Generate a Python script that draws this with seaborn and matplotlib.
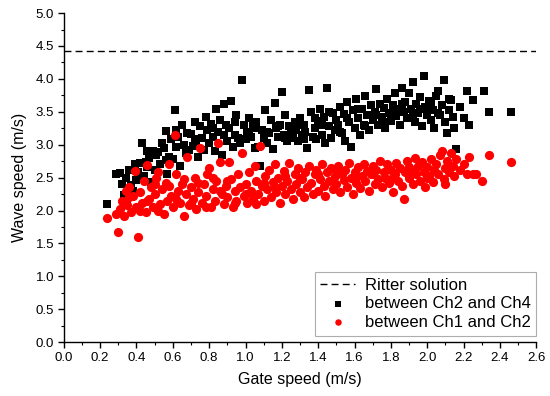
import matplotlib
matplotlib.use("Agg")
import matplotlib.pyplot as plt
import seaborn as sns
import pandas as pd
from matplotlib.ticker import MultipleLocator

# Ritter solution (wave speed, m/s)
ritter_speed = 4.43

# between Ch2 and Ch4 (black squares)
ch24_x = [0.24, 0.29, 0.31, 0.32, 0.33, 0.34, 0.35, 0.36, 0.37, 0.38, 0.39,
          0.40, 0.41, 0.42, 0.43, 0.44, 0.45, 0.46, 0.47, 0.48, 0.49,
          0.50, 0.51, 0.52, 0.53, 0.54, 0.55, 0.56, 0.57, 0.58, 0.59,
          0.60, 0.61, 0.62, 0.63, 0.64, 0.65, 0.66, 0.67, 0.68, 0.69,
          0.70, 0.71, 0.72, 0.73, 0.74, 0.75, 0.76, 0.77, 0.78, 0.79,
          0.80, 0.81, 0.82, 0.83, 0.84, 0.85, 0.86, 0.87, 0.88, 0.89,
          0.90, 0.91, 0.92, 0.93, 0.94, 0.95, 0.96, 0.97, 0.98, 0.99,
          1.00, 1.01, 1.02, 1.03, 1.04, 1.05, 1.06, 1.07, 1.08, 1.09,
          1.10, 1.11, 1.12, 1.13, 1.14, 1.15, 1.16, 1.17, 1.18, 1.19,
          1.20, 1.21, 1.22, 1.23, 1.24, 1.25, 1.26, 1.27, 1.28, 1.29,
          1.30, 1.31, 1.32, 1.33, 1.34, 1.35, 1.36, 1.37, 1.38, 1.39,
          1.40, 1.41, 1.42, 1.43, 1.44, 1.45, 1.46, 1.47, 1.48, 1.49,
          1.50, 1.51, 1.52, 1.53, 1.54, 1.55, 1.56, 1.57, 1.58, 1.59,
          1.60, 1.61, 1.62, 1.63, 1.64, 1.65, 1.66, 1.67, 1.68, 1.69,
          1.70, 1.71, 1.72, 1.73, 1.74, 1.75, 1.76, 1.77, 1.78, 1.79,
          1.80, 1.81, 1.82, 1.83, 1.84, 1.85, 1.86, 1.87, 1.88, 1.89,
          1.90, 1.91, 1.92, 1.93, 1.94, 1.95, 1.96, 1.97, 1.98, 1.99,
          2.00, 2.01, 2.02, 2.03, 2.04, 2.05, 2.06, 2.07, 2.08, 2.09,
          2.10, 2.11, 2.12, 2.13, 2.14, 2.15, 2.16, 2.18, 2.20, 2.22,
          2.23, 2.25, 2.31, 2.34, 2.46,
          1.02, 1.05, 1.12, 1.18, 1.22, 1.28, 1.32, 1.38, 1.42, 1.46,
          1.52, 1.56, 1.62, 1.66, 1.72, 1.76, 1.82, 1.86, 1.92, 1.96,
          2.02, 2.06, 2.12, 0.72, 0.82, 0.88, 0.94, 0.56, 0.46, 0.62]
ch24_y = [2.10, 2.55, 2.57, 2.40, 2.23, 2.50, 2.18, 2.62, 2.39, 2.30, 2.70,
          2.46, 2.58, 2.72, 3.03, 2.52, 2.74, 2.66, 2.80, 2.44, 2.90,
          2.62, 2.84, 2.89, 2.70, 3.02, 2.95, 3.21, 2.56, 2.82, 3.08,
          2.78, 3.53, 2.96, 3.12, 2.68, 3.30, 3.00, 2.88, 3.18, 2.92,
          3.17, 2.98, 3.35, 3.05, 2.82, 3.28, 3.10, 2.92, 3.42, 3.22,
          3.02, 3.32, 3.12, 2.90, 3.54, 3.20, 3.38, 2.84, 3.62, 3.30,
          3.06, 3.25, 3.66, 2.96, 3.15, 3.45, 3.10, 3.02, 3.98, 3.30,
          3.08, 3.20, 3.40, 3.12, 3.28, 2.95, 3.35, 2.97, 2.67, 3.22,
          3.10, 3.53, 3.02, 3.18, 3.38, 2.94, 3.64, 3.25, 3.12, 3.30,
          3.80, 3.15, 3.45, 3.06, 3.28, 3.18, 3.10, 3.35, 3.22, 3.05,
          3.40, 3.14, 3.30, 3.20, 2.95, 3.83, 3.50, 3.12, 3.25, 3.08,
          3.36, 3.55, 3.15, 3.42, 3.02, 3.86, 3.28, 3.10, 3.48, 3.22,
          3.38, 3.30, 3.58, 3.18, 3.46, 3.05, 3.65, 3.35, 2.97, 3.52,
          3.25, 3.70, 3.40, 3.15, 3.55, 3.30, 3.74, 3.45, 3.22, 3.60,
          3.38, 3.50, 3.84, 3.30, 3.62, 3.42, 3.56, 3.25, 3.70, 3.48,
          3.36, 3.60, 3.78, 3.44, 3.55, 3.30, 3.86, 3.50, 3.65, 3.40,
          3.78, 3.55, 3.96, 3.35, 3.62, 3.48, 3.72, 3.28, 4.04, 3.58,
          3.45, 3.66, 3.38, 3.52, 3.25, 3.74, 3.81, 3.45, 3.60, 3.99,
          3.35, 3.18, 3.52, 3.68, 3.42, 3.25, 2.93, 3.58, 3.40, 3.82,
          3.30, 3.68, 3.82, 3.50, 3.50,
          3.15, 3.25, 3.20, 3.28, 3.10, 3.32, 3.08, 3.40, 3.30, 3.50,
          3.20, 3.40, 3.55, 3.28, 3.45, 3.35, 3.52, 3.62, 3.45, 3.55,
          3.62, 3.48, 3.70, 3.08, 3.25, 3.15, 3.35, 2.76, 2.90, 3.22]

# between Ch1 and Ch2 (red circles)
ch12_x = [0.24, 0.29, 0.30, 0.31, 0.32, 0.33, 0.34, 0.35, 0.36, 0.37, 0.38, 0.39,
          0.40, 0.41, 0.42, 0.43, 0.44, 0.45, 0.46, 0.47, 0.48, 0.49,
          0.50, 0.51, 0.52, 0.53, 0.54, 0.55, 0.56, 0.57, 0.58, 0.59,
          0.60, 0.61, 0.62, 0.63, 0.64, 0.65, 0.66, 0.67, 0.68, 0.69,
          0.70, 0.71, 0.72, 0.73, 0.74, 0.75, 0.76, 0.77, 0.78, 0.79,
          0.80, 0.81, 0.82, 0.83, 0.84, 0.85, 0.86, 0.87, 0.88, 0.89,
          0.90, 0.91, 0.92, 0.93, 0.94, 0.95, 0.96, 0.97, 0.98, 0.99,
          1.00, 1.01, 1.02, 1.03, 1.04, 1.05, 1.06, 1.07, 1.08, 1.09,
          1.10, 1.11, 1.12, 1.13, 1.14, 1.15, 1.16, 1.17, 1.18, 1.19,
          1.20, 1.21, 1.22, 1.23, 1.24, 1.25, 1.26, 1.27, 1.28, 1.29,
          1.30, 1.31, 1.32, 1.33, 1.34, 1.35, 1.36, 1.37, 1.38, 1.39,
          1.40, 1.41, 1.42, 1.43, 1.44, 1.45, 1.46, 1.47, 1.48, 1.49,
          1.50, 1.51, 1.52, 1.53, 1.54, 1.55, 1.56, 1.57, 1.58, 1.59,
          1.60, 1.61, 1.62, 1.63, 1.64, 1.65, 1.66, 1.67, 1.68, 1.69,
          1.70, 1.71, 1.72, 1.73, 1.74, 1.75, 1.76, 1.77, 1.78, 1.79,
          1.80, 1.81, 1.82, 1.83, 1.84, 1.85, 1.86, 1.87, 1.88, 1.89,
          1.90, 1.91, 1.92, 1.93, 1.94, 1.95, 1.96, 1.97, 1.98, 1.99,
          2.00, 2.01, 2.02, 2.03, 2.04, 2.05, 2.06, 2.07, 2.08, 2.09,
          2.10, 2.11, 2.12, 2.13, 2.14, 2.15, 2.16, 2.18, 2.20, 2.22,
          2.23, 2.25, 2.27, 2.30, 2.34, 2.46,
          0.36, 0.42, 0.46, 0.50, 0.52, 0.58, 0.62, 0.66, 0.70, 0.74,
          0.78, 0.82, 0.86, 0.90, 0.94, 1.00, 1.06, 1.10, 1.16, 1.22,
          1.30, 1.40, 1.50, 1.60, 1.70, 1.80, 1.90, 2.00, 2.10]
ch12_y = [1.88, 1.95, 1.68, 2.02, 2.15, 1.92, 2.30, 2.08, 2.36, 1.98, 2.22, 2.60,
          2.05, 1.59, 2.28, 2.12, 2.45, 1.98, 2.69, 2.18, 2.35, 2.05,
          2.25, 2.50, 2.59, 2.10, 2.32, 1.95, 2.42, 2.15, 2.70, 2.22,
          2.05, 3.14, 2.56, 2.30, 2.12, 2.40, 1.92, 2.25, 2.82, 2.08,
          2.35, 2.18, 2.50, 2.02, 2.28, 2.95, 2.12, 2.40, 2.22, 2.55,
          2.64, 2.05, 2.32, 2.15, 2.45, 3.02, 2.74, 2.25, 2.10, 2.38,
          2.20, 2.74, 2.48, 2.05, 2.30, 2.15, 2.55, 2.35, 2.87, 2.22,
          2.40, 2.12, 2.58, 2.30, 2.18, 2.67, 2.45, 2.25, 2.98, 2.38,
          2.15, 2.52, 2.32, 2.62, 2.20, 2.44, 2.70, 2.28, 2.50, 2.12,
          2.38, 2.60, 2.25, 2.45, 2.72, 2.32, 2.18, 2.55, 2.40, 2.65,
          2.28, 2.48, 2.20, 2.58, 2.35, 2.68, 2.42, 2.25, 2.55, 2.62,
          2.30, 2.48, 2.70, 2.38, 2.22, 2.58, 2.45, 2.65, 2.32, 2.52,
          2.40, 2.68, 2.28, 2.55, 2.46, 2.62, 2.35, 2.72, 2.50, 2.25,
          2.58, 2.42, 2.66, 2.34, 2.52, 2.70, 2.45, 2.60, 2.30, 2.55,
          2.68, 2.40, 2.62, 2.48, 2.75, 2.35, 2.58, 2.50, 2.70, 2.42,
          2.62, 2.28, 2.55, 2.72, 2.45, 2.65, 2.38, 2.17, 2.58, 2.75,
          2.50, 2.62, 2.40, 2.80, 2.55, 2.68, 2.45, 2.74, 2.58, 2.35,
          2.66, 2.52, 2.78, 2.44, 2.62, 2.70, 2.55, 2.85, 2.91, 2.48,
          2.65, 2.75, 2.58, 2.88, 2.68, 2.52, 2.78, 2.62, 2.70, 2.55,
          2.82, 2.55, 2.55, 2.45, 2.84, 2.73,
          2.20, 2.00, 2.15, 2.40, 2.00, 2.38, 2.18, 2.48, 2.12, 2.42,
          2.05, 2.50, 2.30, 2.45, 2.12, 2.25, 2.10, 2.42, 2.35, 2.52,
          2.50, 2.55, 2.62, 2.48, 2.55, 2.48, 2.66, 2.50, 2.40]

plt.rcParams["font.family"] = ["Liberation Sans", "DejaVu Sans"]
fig = plt.figure(figsize=(5.5, 3.96), dpi=100)
ax = fig.add_axes([0.116, 0.136, 0.859, 0.831])

ax.axhline(ritter_speed, color="black", lw=1.0, ls=(0, (5, 3)), label="Ritter solution")

df24 = pd.DataFrame({"x": ch24_x, "y": ch24_y})
df12 = pd.DataFrame({"x": ch12_x, "y": ch12_y})
sns.scatterplot(data=df24, x="x", y="y", ax=ax, marker="s", s=32, color="black",
                linewidth=0, label="between Ch2 and Ch4")
sns.scatterplot(data=df12, x="x", y="y", ax=ax, marker="o", s=44, color="#ff0000",
                linewidth=0, label="between Ch1 and Ch2")

ax.set_xlim(0, 2.6)
ax.set_ylim(0, 5.0)
ax.xaxis.set_major_locator(MultipleLocator(0.2))
ax.xaxis.set_minor_locator(MultipleLocator(0.1))
ax.yaxis.set_major_locator(MultipleLocator(0.5))
ax.yaxis.set_minor_locator(MultipleLocator(0.25))
ax.set_xticklabels([f"{v:.1f}" for v in ax.get_xticks()])
ax.set_yticklabels([f"{v:.1f}" for v in ax.get_yticks()])
ax.tick_params(which="major", direction="out", length=4, width=1, labelsize=9.5,
               colors="black", pad=3)
ax.tick_params(which="minor", direction="out", length=2, width=0.8)
for side in ["top", "right"]:
    ax.spines[side].set_visible(False)
for side in ["left", "bottom"]:
    ax.spines[side].set_linewidth(1.0)
    ax.spines[side].set_color("black")

ax.set_xlabel("Gate speed (m/s)", fontsize=11.5, labelpad=6)
ax.set_ylabel("Wave speed (m/s)", fontsize=11.5, labelpad=6)

leg = ax.legend(loc="lower right", bbox_to_anchor=(1.0, 0.02), borderaxespad=0,
                fontsize=12, frameon=True, fancybox=False, edgecolor="#999999",
                handlelength=2.1, handletextpad=0.55, markerscale=0.7,
                borderpad=0.35, labelspacing=0.2)
leg.get_frame().set_linewidth(0.8)

fig.savefig("out.png", dpi=100)
